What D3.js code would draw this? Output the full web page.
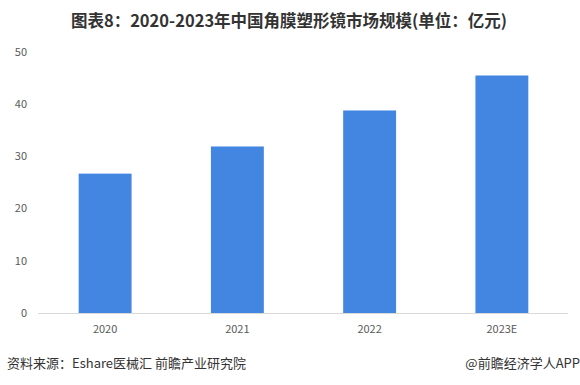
<!doctype html>
<html lang="zh">
<head>
<meta charset="utf-8">
<script src="https://d3js.org/d3.v7.min.js"></script>
<style>
  body { margin: 0; background: #fff; }
  text { font-family: "Microsoft YaHei", "Noto Sans CJK SC", "Noto Sans", sans-serif; }
</style>
</head>
<body>
<script>
  var width = 580;
  var height = 385;

  var years = ["2020", "2021", "2022", "2023E"];
  var marketSize = [26.7, 31.9, 38.8, 45.5];
  var yTicks = [0, 10, 20, 30, 40, 50];

  var margin = {top: 52, right: 12, bottom: 72, left: 38};

  var svg = d3.select("body").append("svg")
      .attr("width", width)
      .attr("height", height);

  var x = d3.scaleBand()
      .domain(years)
      .range([margin.left + 1, width - margin.right])
      .paddingInner(0.6)
      .paddingOuter(0.3);

  var y = d3.scaleLinear()
      .domain([0, 50])
      .range([height - margin.bottom, margin.top]);

  // title
  svg.append("text")
      .attr("x", 289)
      .attr("y", 27)
      .attr("text-anchor", "middle")
      .style("font-size", "16.5px")
      .style("font-weight", "bold")
      .style("fill", "#333")
      .text("图表8：2020-2023年中国角膜塑形镜市场规模(单位：亿元)");

  // y axis labels
  svg.append("g").selectAll("text")
      .data(yTicks)
      .enter()
      .append("text")
      .attr("x", 27)
      .attr("y", d => y(d))
      .attr("dy", "0.35em")
      .attr("text-anchor", "end")
      .style("font-size", "11px")
      .style("fill", "#595959")
      .text(d => d);

  // bars
  svg.append("g").selectAll("rect")
      .data(marketSize)
      .enter()
      .append("rect")
      .attr("x", (d, i) => x(years[i]))
      .attr("y", d => y(d))
      .attr("width", x.bandwidth())
      .attr("height", d => y(0) - y(d))
      .style("fill", "#4286e2");

  // baseline
  svg.append("line")
      .attr("x1", margin.left)
      .attr("x2", width - margin.right)
      .attr("y1", y(0) + 0.5)
      .attr("y2", y(0) + 0.5)
      .style("stroke", "#d9d9d9")
      .style("stroke-width", 1);

  // x labels
  svg.append("g").selectAll("text")
      .data(years)
      .enter()
      .append("text")
      .attr("x", d => x(d) + x.bandwidth() / 2)
      .attr("y", y(0) + 20)
      .attr("text-anchor", "middle")
      .style("font-size", "11px")
      .style("fill", "#595959")
      .text(d => d);

  // footer
  svg.append("text")
      .attr("x", 7)
      .attr("y", 368)
      .style("font-size", "13px")
      .style("fill", "#333")
      .text("资料来源：Eshare医械汇 前瞻产业研究院");

  svg.append("text")
      .attr("x", 580)
      .attr("y", 368)
      .attr("text-anchor", "end")
      .style("font-size", "13px")
      .style("fill", "#333")
      .text("@前瞻经济学人APP");
</script>
</body>
</html>
